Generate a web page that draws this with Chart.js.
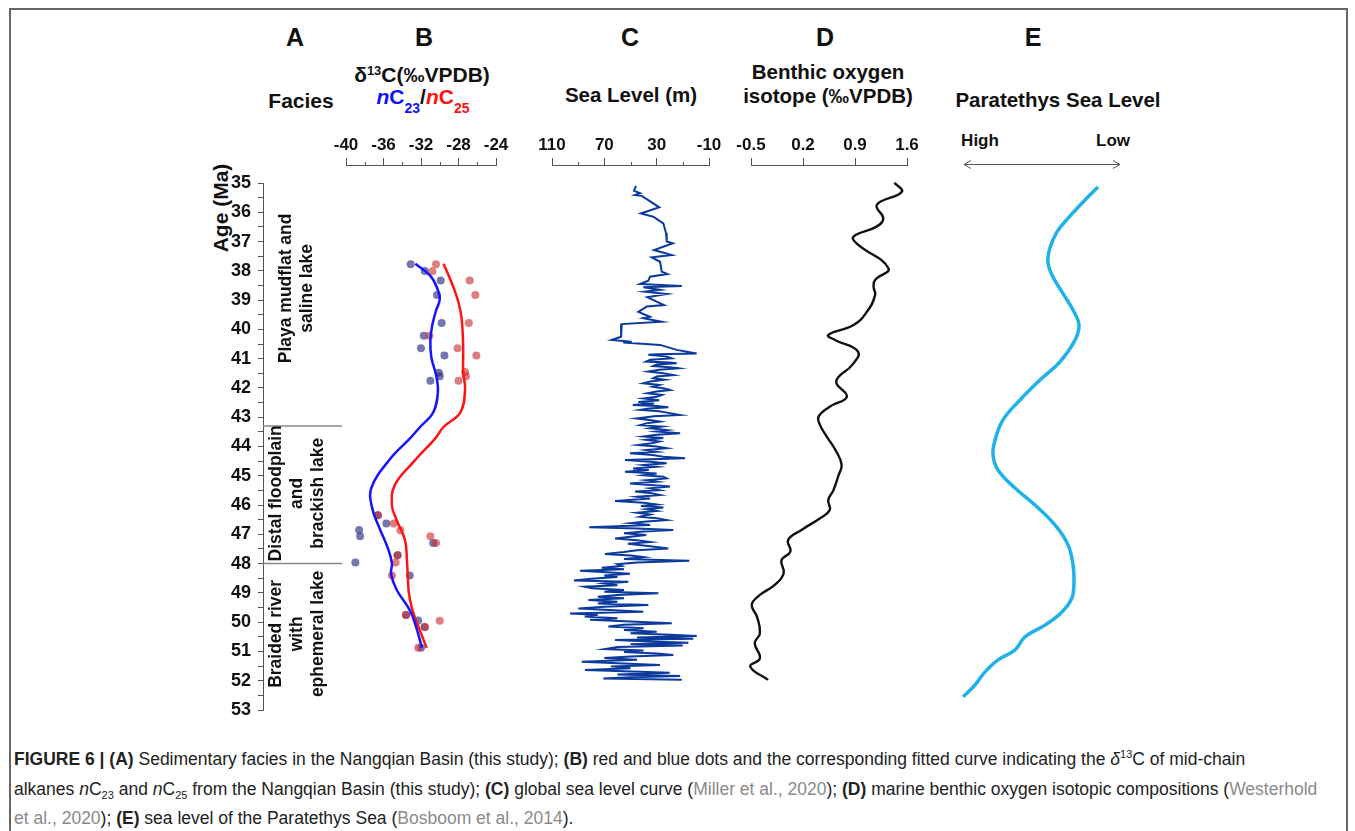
<!DOCTYPE html>
<html>
<head>
<meta charset="utf-8">
<script src="https://cdn.jsdelivr.net/npm/chart.js@4.4.0/dist/chart.umd.min.js"></script>
<style>
  body { margin: 0; background: #fff; font-family: "Liberation Sans", Arial, sans-serif; }
  #fig { position: relative; width: 1355px; height: 831px; overflow: hidden; background: #fff; }
  .frame { position: absolute; left: 9px; top: 8px; width: 1335px; height: 840px; border: 2px solid #666; }
  canvas { position: absolute; }
  .t { position: absolute; font-weight: bold; color: #111; white-space: nowrap; transform: translate(-50%, -50%); }
  .t sup { font-size: 13px; position: relative; top: -7px; vertical-align: baseline; }
  .t sub { font-size: 14px; position: relative; top: 9px; vertical-align: baseline; }
  .cap { position: absolute; left: 14px; top: 746px; font-size: 17.5px; line-height: 27.5px; color: #222; white-space: nowrap; }
  .cap sup { font-size: 11px; position: relative; top: -7px; vertical-align: baseline; }
  .cap sub { font-size: 11px; position: relative; top: 4px; vertical-align: baseline; }
  .cap .g { color: #8a8a8a; }
</style>
</head>
<body>
<div id="fig">
  <div class="frame"></div>

  <div class="t" style="left:295px;top:37px;font-size:25px">A</div>
  <div class="t" style="left:424px;top:37px;font-size:25px">B</div>
  <div class="t" style="left:630px;top:37px;font-size:25px">C</div>
  <div class="t" style="left:825px;top:37px;font-size:25px">D</div>
  <div class="t" style="left:1033px;top:37px;font-size:25px">E</div>

  <div class="t" style="left:301px;top:101px;font-size:21px">Facies</div>
  <div class="t" style="left:422px;top:75px;font-size:21px">δ<sup>13</sup>C(‰VPDB)</div>
  <div class="t" style="left:423px;top:97px;font-size:21px"><span style="color:#1010ff"><i>n</i>C<sub>23</sub></span>/<span style="color:#ff1010"><i>n</i>C<sub>25</sub></span></div>
  <div class="t" style="left:631px;top:95px;font-size:20.5px">Sea Level (m)</div>
  <div class="t" style="left:828px;top:72px;font-size:20.5px">Benthic oxygen</div>
  <div class="t" style="left:828px;top:96px;font-size:20.5px">isotope (‰VPDB)</div>
  <div class="t" style="left:1058px;top:100px;font-size:20.5px">Paratethys Sea Level</div>
  <div class="t" style="left:980px;top:141px;font-size:17px">High</div>
  <div class="t" style="left:1113px;top:141px;font-size:17px">Low</div>
  <div class="t" style="left:221px;top:208px;font-size:21px;transform:translate(-50%,-50%) rotate(-90deg)">Age (Ma)</div>

  <canvas id="cA" width="142" height="575" style="left:200px;top:159px"></canvas>
  <canvas id="cB" width="200" height="595" style="left:321px;top:115px"></canvas>
  <canvas id="cC" width="207" height="595" style="left:527px;top:115px"></canvas>
  <canvas id="cD" width="206" height="595" style="left:726px;top:115px"></canvas>
  <canvas id="cE" width="196" height="595" style="left:944px;top:115px"></canvas>

  <div class="cap">
    <b>FIGURE 6 | (A)</b> Sedimentary facies in the Nangqian Basin (this study); <b>(B)</b> red and blue dots and the corresponding fitted curve indicating the <i>δ</i><sup>13</sup>C of mid-chain<br>
    alkanes <i>n</i>C<sub>23</sub> and <i>n</i>C<sub>25</sub> from the Nangqian Basin (this study); <b>(C)</b> global sea level curve (<span class="g">Miller et al., 2020</span>); <b>(D)</b> marine benthic oxygen isotopic compositions (<span class="g">Westerhold</span><br>
    <span class="g">et al., 2020</span>); <b>(E)</b> sea level of the Paratethys Sea (<span class="g">Bosboom et al., 2014</span>).
  </div>
</div>

<script>
const FONT = '"Liberation Sans", Arial, sans-serif';
Chart.defaults.font.family = FONT;
Chart.defaults.animation = false;
Chart.defaults.events = [];
Chart.defaults.plugins.legend.display = false;
Chart.defaults.plugins.tooltip.enabled = false;

// age axis (Ma)
const AGE_MIN = 35, AGE_MAX = 53;
const ageTicks = [35, 36, 37, 38, 39, 40, 41, 42, 43, 44, 45, 46, 47, 48, 49, 50, 51, 52, 53];

// facies
const faciesBounds = [43.3, 48];
const faciesMid = [38.6, 45.6, 50.4];
const faciesText = [
  ['Playa mudflat and', 'saline lake'],
  ['Distal floodplain', 'and', 'brackish lake'],
  ['Braided river', 'with', 'ephemeral lake']
];

// B: d13C of nC23 / nC25
const bTicks = [-40, -36, -32, -28, -24];
const bMinor = [-38, -34, -30, -26];
const c23DotAge = [37.80, 38.03, 38.36, 38.86, 39.82, 40.26, 40.69, 40.94, 41.53, 41.65, 41.81, 46.44, 46.72, 46.94, 47.16, 47.39, 47.81, 48.06, 48.51, 49.87, 50.06, 50.28, 51.00];
const c23DotVal = [-33.1, -31.6, -29.9, -30.3, -29.8, -31.7, -32.0, -29.5, -30.1, -30.0, -31.0, -36.6, -35.7, -38.6, -38.5, -30.7, -34.5, -39.0, -33.2, -33.6, -32.3, -31.6, -32.0];
const c25DotAge = [37.80, 38.04, 38.36, 38.86, 39.82, 40.26, 40.69, 40.94, 41.51, 41.65, 41.81, 46.44, 46.72, 46.95, 47.16, 47.39, 47.81, 48.06, 48.51, 49.87, 50.07, 50.28, 51.00];
const c25DotVal = [-30.4, -30.8, -26.8, -26.2, -26.9, -31.1, -28.1, -26.1, -27.3, -27.2, -28.0, -36.6, -34.9, -34.2, -31.0, -30.4, -34.5, -34.7, -35.1, -33.6, -30.0, -31.6, -32.3];
const c23FitAge = [37.78, 38.2, 38.6, 39.0, 39.4, 39.9, 40.4, 41.0, 41.6, 42.2, 42.9, 43.4, 43.8, 44.5, 45.5, 46.2, 46.9, 47.6, 48.1, 48.45, 49.0, 49.7, 50.3, 51.0];
const c23FitVal = [-32.6, -31.0, -30.3, -30.0, -30.4, -30.8, -31.0, -30.9, -30.4, -30.2, -30.7, -32.1, -33.2, -35.3, -37.3, -37.2, -36.4, -35.5, -35.1, -35.2, -34.6, -33.2, -32.5, -31.9];
const c25FitAge = [37.78, 38.3, 38.9, 39.4, 39.9, 40.7, 41.5, 42.1, 42.9, 43.4, 43.8, 44.6, 45.4, 46.1, 46.6, 47.3, 48.0, 48.6, 49.1, 49.6, 50.0, 50.5, 51.0];
const c25FitVal = [-29.6, -28.9, -28.2, -27.8, -27.6, -27.5, -27.5, -27.3, -27.8, -29.6, -30.5, -32.8, -34.8, -35.1, -34.6, -33.7, -33.5, -33.4, -33.3, -33.0, -32.6, -32.0, -31.4];

// C: global sea level (m)
const cTicks = [110, 70, 30, -10];
const cMinor = [90, 50, 10];
const seaAge = [35.10, 35.26, 35.35, 35.41, 35.44, 35.83, 36.04, 36.15, 36.38, 36.72, 37.00, 37.06, 37.29, 37.46, 37.54, 37.69, 38.03, 38.11, 38.20, 38.34, 38.45, 38.52, 38.56, 38.65, 38.71, 38.79, 38.90, 39.05, 39.17, 39.22, 39.40, 39.57, 39.62, 39.74, 39.82, 40.25, 40.36, 40.42, 40.45, 40.53, 40.70, 40.82,
  40.85, 40.87, 40.93, 40.99, 41.04, 41.10, 41.13, 41.16, 41.20, 41.25, 41.29, 41.33, 41.38, 41.44, 41.50, 41.56, 41.61, 41.67, 41.72, 41.78, 41.84, 41.90, 41.96, 42.02, 42.07, 42.12, 42.18, 42.24, 42.30, 42.36, 42.42, 42.48, 42.53, 42.58, 42.62, 42.66, 42.70, 42.75, 42.80, 42.86, 42.92, 42.97,
  43.04, 43.10, 43.15, 43.21, 43.27, 43.32, 43.38, 43.44, 43.49, 43.55, 43.60, 43.66, 43.71, 43.77, 43.83, 43.89, 43.95, 44.00, 44.06, 44.12, 44.18, 44.23, 44.29, 44.35, 44.40, 44.46, 44.52, 44.57, 44.63, 44.69, 44.75, 44.80, 44.86, 44.92, 44.98, 45.03, 45.09, 45.15, 45.20, 45.26, 45.32, 45.37, 45.43, 45.49, 45.54, 45.60, 45.66, 45.72, 45.78, 45.86, 45.92, 45.98,
  46.03, 46.08, 46.14, 46.20, 46.26, 46.32, 46.40, 46.45, 46.51, 46.57, 46.62, 46.68, 46.76, 46.80, 46.85, 46.90, 46.96, 47.02, 47.08, 47.14, 47.20, 47.26, 47.32, 47.38, 47.43, 47.48, 47.54, 47.60, 47.67, 47.72, 47.78, 47.84, 47.90, 47.96,
  48.02, 48.08, 48.14, 48.19, 48.24, 48.30, 48.35, 48.41, 48.46, 48.52, 48.58, 48.62, 48.68, 48.74, 48.79, 48.84, 48.90, 48.96, 49.01, 49.07, 49.13, 49.18, 49.24, 49.30, 49.36, 49.41, 49.47, 49.53, 49.58, 49.64, 49.70, 49.75, 49.81, 49.87, 49.92, 49.98,
  50.04, 50.09, 50.15, 50.21, 50.27, 50.33, 50.38, 50.43, 50.47, 50.52, 50.57, 50.61, 50.66, 50.70, 50.75, 50.80, 50.85, 50.92, 50.97, 51.02, 51.07, 51.12, 51.17, 51.22, 51.28, 51.35, 51.40, 51.46, 51.51, 51.57, 51.63, 51.68, 51.73, 51.79, 51.84, 51.88, 51.92, 51.97];
const seaLevel = [45.8, 47.3, 42.7, 46.5, 41.4, 28.0, 42.0, 32.6, 24.9, 22.8, 22.3, 17.7, 32.0, 18.5, 33.8, 27.4, 26.1, 21.8, 35.1, 36.4, 42.7, 10.8, 40.2, 27.4, 38.9, 22.3, 37.1, 30.0, 24.4, 37.6, 44.0, 35.1, 40.2, 26.1, 56.7, 57.2, 64.4, 49.1, 55.5, 27.4, 14.7, -0.6,
  30, 36.4, 22, 18.5, 35, 38.1, 20, 14.7, 30, 32.6, 20, 13.4, 28, 36.4, 25, 17.3, 30, 32.6, 24, 35, 40.2, 28, 33, 24, 19.8, 30, 37.1, 26, 30.0, 40, 28, 44, 32, 48.3, 30, 21.1, 36, 42.7, 28, 20, 12.1, 32,
  45.2, 34, 27.4, 38, 42.7, 26, 35, 22, 30, 12.1, 30, 40, 25, 38, 28, 34, 44.0, 30, 22.3, 38, 30, 50.4, 33, 25, 8.3, 54.2, 35, 22.3, 40, 30, 48, 36, 54.2, 30, 40, 25, 22.3, 38, 30, 50.4, 32, 19.8, 35, 28, 46.5, 34, 27.4, 45, 35, 61.8, 40, 30,
  42, 24.9, 38, 30, 45, 35, 42.7, 30, 22.3, 40, 50, 35, 81.5, 45, 17.3, 40, 55, 38, 50, 61.8, 45, 35, 52, 40, 30, 21.1, 45, 55, 69.5, 50, 40, 55, 5.0, 45,
  60, 56.7, 72, 55, 88.6, 65, 50.4, 70, 60, 80, 93.2, 51.7, 70, 60, 85, 79.6, 55, 70, 28.7, 60, 75, 55, 82.2, 60, 75, 36.4, 70, 89.9, 70, 40.2, 96.2, 75, 85, 60, 81.0, 50,
  18.5, 55, 66.9, 40, 55, 30, 50, 20, -0.6, 45, 2, 61.8, 35, 5.8, 50, 10, 60, 69.5, 40, 55, 30, 17.3, 50, 70, 45, 87.3, 60, 27.4, 65, 50, 84.8, 55, 20, 60, 12.1, 50, 70.8, 10.8];

// D: benthic d18O (permil VPDB)
const dTicks = [-0.5, 0.2, 0.9, 1.6];
const oxyAge = [34.99, 35.30, 35.64, 35.81, 36.21, 36.49, 36.83, 37.06, 37.91, 38.31, 38.54, 38.83, 39.40, 39.85, 40.19, 40.36, 40.76, 41.22, 41.62, 41.84, 42.30, 42.64, 42.98, 43.27, 43.66, 44.18, 44.63, 44.97, 45.49, 45.83, 46.17, 46.45, 46.85, 47.19, 47.59, 47.88, 48.33, 48.73, 49.07, 49.41, 49.81, 50.38, 50.72, 51.23, 51.52, 51.97];
const oxyVal = [1.43, 1.53, 1.24, 1.19, 1.28, 1.19, 0.88, 0.92, 1.35, 1.17, 1.15, 1.17, 1.06, 0.88, 0.54, 0.63, 0.94, 0.86, 0.68, 0.65, 0.79, 0.56, 0.41, 0.43, 0.52, 0.65, 0.72, 0.68, 0.61, 0.54, 0.56, 0.43, 0.18, 0.00, 0.03, -0.09, -0.06, -0.18, -0.38, -0.49, -0.42, -0.38, -0.45, -0.38, -0.51, -0.27];

// E: Paratethys sea level (0 = high, 100 = low)
const paraAge = [35.14, 35.58, 36.13, 36.67, 37.22, 37.70, 38.14, 38.72, 39.34, 39.85, 40.36, 41.11, 41.73, 42.41, 43.09, 43.78, 44.29, 44.80, 45.42, 46.00, 46.68, 47.36, 48.05, 48.56, 49.17, 49.65, 50.10, 50.50, 50.95, 51.29, 51.70, 52.14, 52.55];
const paraVal = [85.9, 77.6, 67.9, 59.6, 55.1, 53.8, 56.4, 62.8, 69.9, 73.7, 71.2, 61.5, 48.7, 35.9, 25.0, 19.9, 18.6, 21.8, 32.7, 45.5, 58.3, 66.7, 69.9, 70.5, 69.2, 62.8, 51.9, 39.1, 32.7, 21.8, 13.5, 7.1, -0.6];

const pts = (ages, vals) => ages.map((a, i) => ({ x: vals[i], y: a }));

// panels B-E put their value axis above the data, 18px over the 35 Ma line
const pxPerMa = 527 / (AGE_MAX - AGE_MIN);
const AGE_TOP = AGE_MIN - 18 / pxPerMa;

const ageHidden = { type: 'linear', min: AGE_TOP, max: AGE_MAX, reverse: true, display: false };

function topAxis(min, max, reverse, ticks) {
  return {
    type: 'linear', position: 'top', min, max, reverse,
    afterBuildTicks: s => { s.ticks = ticks.map(v => ({ value: v })); },
    afterFit: s => { s.height = 50; },
    border: { display: true, color: '#555', width: 1 },
    grid: { drawOnChartArea: false, color: '#555', tickLength: 7, lineWidth: 1 },
    ticks: { color: '#111', autoSkip: false, maxRotation: 0, padding: 2,
      font: { size: 17, weight: 'bold' }, callback: v => String(v) }
  };
}

// short ticks between the labelled ones
const minorTicks = (values, len) => ({
  id: 'minorTicks',
  afterDraw(chart) {
    const { ctx, chartArea } = chart;
    const x = chart.scales.x;
    ctx.save();
    ctx.strokeStyle = '#555';
    ctx.lineWidth = 1;
    values.forEach(v => {
      const px = Math.round(x.getPixelForValue(v)) + 0.5;
      ctx.beginPath();
      ctx.moveTo(px, chartArea.top);
      ctx.lineTo(px, chartArea.top - len);
      ctx.stroke();
    });
    ctx.restore();
  }
});

const padX = { top: 0, bottom: 0, left: 25, right: 25 };

// A: age axis + facies
const faciesLabels = {
  id: 'faciesLabels',
  afterDraw(chart) {
    const { ctx, chartArea } = chart;
    const y = chart.scales.y;
    const cx = chartArea.left + 34;
    ctx.save();
    ctx.fillStyle = '#111';
    ctx.font = 'bold 17.5px ' + FONT;
    ctx.textAlign = 'center';
    ctx.textBaseline = 'middle';
    faciesText.forEach((lines, i) => {
      ctx.save();
      ctx.translate(cx, y.getPixelForValue(faciesMid[i]));
      ctx.rotate(-Math.PI / 2);
      const lh = 21;
      lines.forEach((s, j) => ctx.fillText(s, 0, (j - (lines.length - 1) / 2) * lh));
      ctx.restore();
    });
    ctx.restore();
  }
};

new Chart(document.getElementById('cA'), {
  type: 'scatter',
  data: {
    datasets: faciesBounds.map(b => ({
      data: [{ x: 0, y: b }, { x: 1, y: b }],
      showLine: true, borderColor: '#888', borderWidth: 1.5, pointRadius: 0
    }))
  },
  options: {
    responsive: false,
    layout: { padding: { top: 24, bottom: 24, left: 0, right: 0 } },
    scales: {
      x: { type: 'linear', min: 0, max: 1, display: false },
      y: {
        type: 'linear', position: 'left', min: AGE_MIN, max: AGE_MAX, reverse: true,
        afterBuildTicks: s => {
          const t = [];
          ageTicks.forEach((v, i) => { t.push({ value: v }); if (i < ageTicks.length - 1) t.push({ value: v + 0.5 }); });
          s.ticks = t;
        },
        afterFit: s => { s.width = 63; },
        border: { display: true, color: '#555', width: 1 },
        grid: { drawOnChartArea: false, color: '#555', tickLength: 5 },
        ticks: { autoSkip: false, padding: 7, color: '#111', font: { size: 18, weight: 'bold' },
          callback: v => Number.isInteger(v) ? String(v) : '' }
      }
    }
  },
  plugins: [faciesLabels]
});

// B: d13C dots and fitted curves
new Chart(document.getElementById('cB'), {
  type: 'scatter',
  data: {
    datasets: [
      { data: pts(c23FitAge, c23FitVal), showLine: true, tension: 0.4, borderColor: '#1414ff', borderWidth: 2.5, pointRadius: 0, order: 1 },
      { data: pts(c25FitAge, c25FitVal), showLine: true, tension: 0.4, borderColor: '#ff1414', borderWidth: 2.5, pointRadius: 0, order: 2 },
      { data: pts(c25DotAge, c25DotVal), pointRadius: 4, pointBorderWidth: 0, backgroundColor: 'rgba(205,45,50,0.62)', order: 3 },
      { data: pts(c23DotAge, c23DotVal), pointRadius: 4, pointBorderWidth: 0, backgroundColor: 'rgba(45,45,135,0.65)', order: 4 }
    ]
  },
  options: {
    responsive: false,
    layout: { padding: padX },
    scales: { x: topAxis(-40, -24, false, bTicks), y: ageHidden }
  },
  plugins: [minorTicks(bMinor, 3)]
});

// C: global sea level
new Chart(document.getElementById('cC'), {
  type: 'scatter',
  data: {
    datasets: [{ data: pts(seaAge, seaLevel), showLine: true, tension: 0, borderColor: '#0b3a9c', borderWidth: 2, pointRadius: 0, clip: false }]
  },
  options: {
    responsive: false,
    layout: { padding: padX },
    scales: { x: topAxis(-10, 110, true, cTicks), y: ageHidden }
  },
  plugins: [minorTicks(cMinor, 3)]
});

// D: benthic oxygen isotope
new Chart(document.getElementById('cD'), {
  type: 'scatter',
  data: {
    datasets: [{ data: pts(oxyAge, oxyVal), showLine: true, tension: 0.45, borderColor: '#111', borderWidth: 2.4, pointRadius: 0, clip: false }]
  },
  options: {
    responsive: false,
    layout: { padding: padX },
    scales: { x: topAxis(-0.5, 1.6, false, dTicks), y: ageHidden }
  }
});

// E: Paratethys sea level, with High <-> Low arrow on top
const rangeArrow = {
  id: 'rangeArrow',
  afterDraw(chart) {
    const { ctx, chartArea } = chart;
    const y = chartArea.top - 0.5;
    const l = chartArea.left, r = chartArea.right;
    ctx.save();
    ctx.strokeStyle = '#555';
    ctx.lineWidth = 1;
    ctx.beginPath();
    ctx.moveTo(l, y); ctx.lineTo(r, y);
    ctx.moveTo(l + 7, y - 4); ctx.lineTo(l, y); ctx.lineTo(l + 7, y + 4);
    ctx.moveTo(r - 7, y - 4); ctx.lineTo(r, y); ctx.lineTo(r - 7, y + 4);
    ctx.stroke();
    ctx.restore();
  }
};

new Chart(document.getElementById('cE'), {
  type: 'scatter',
  data: {
    datasets: [{ data: pts(paraAge, paraVal), showLine: true, tension: 0.4, borderColor: '#1fb2ea', borderWidth: 3.5, pointRadius: 0, clip: false }]
  },
  options: {
    responsive: false,
    layout: { padding: { top: 50, bottom: 0, left: 20, right: 20 } },
    scales: { x: { type: 'linear', min: 0, max: 100, display: false }, y: ageHidden }
  },
  plugins: [rangeArrow]
});
</script>
</body>
</html>
